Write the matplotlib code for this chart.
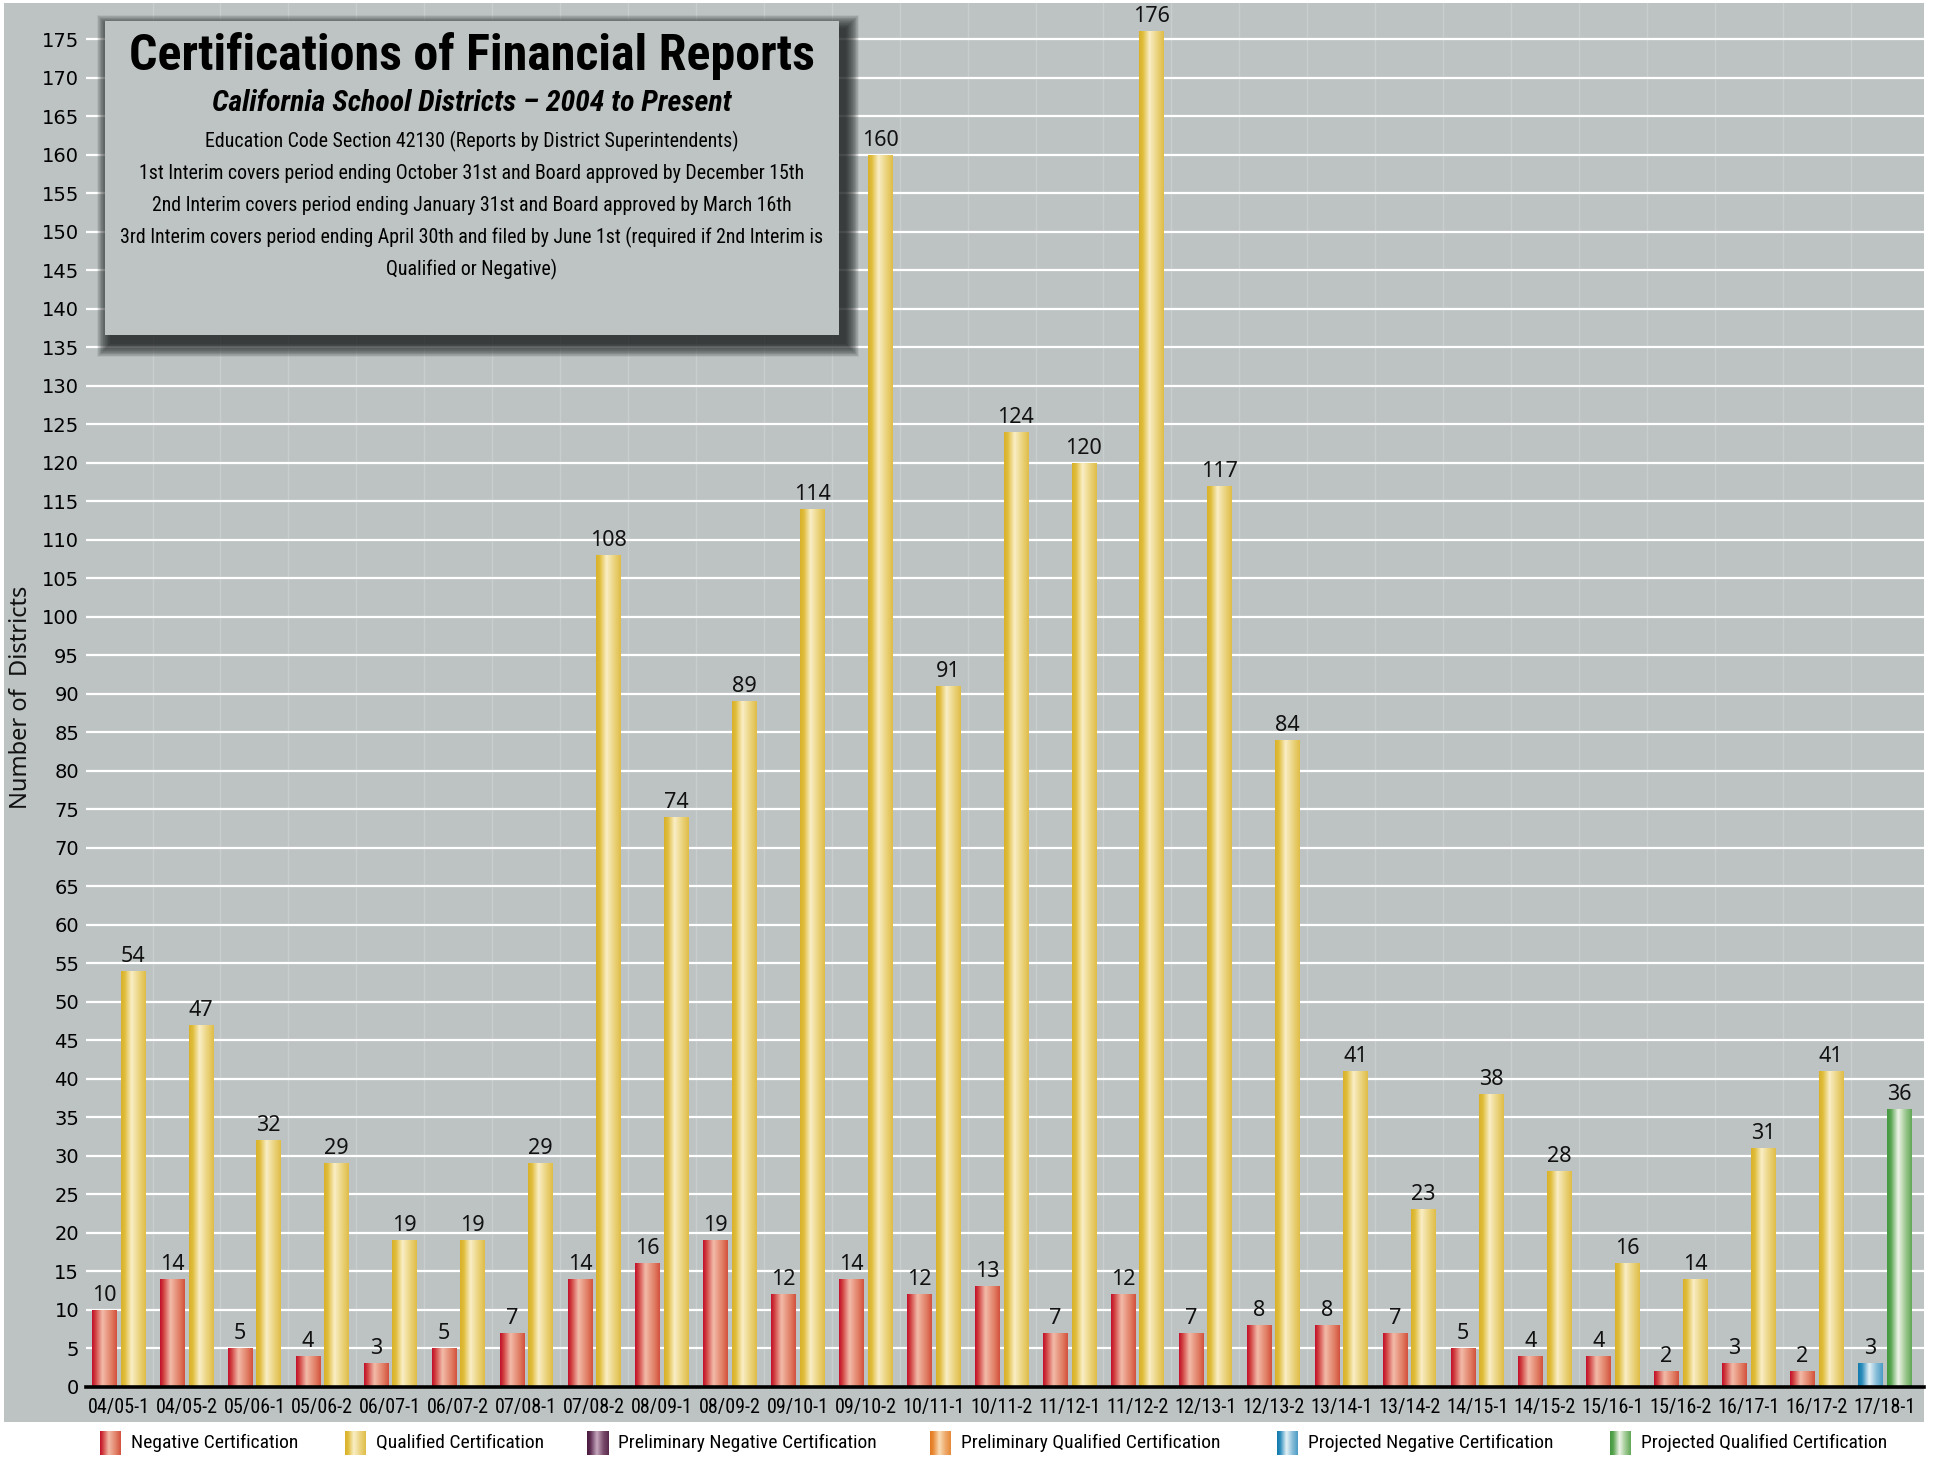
import numpy as np
import matplotlib
matplotlib.use("Agg")
import matplotlib.pyplot as plt
from matplotlib import font_manager
from matplotlib.patches import Rectangle
from matplotlib.colors import to_rgb

# ---------------- data ----------------
categories = ["04/05-1", "04/05-2", "05/06-1", "05/06-2", "06/07-1", "06/07-2",
              "07/08-1", "07/08-2", "08/09-1", "08/09-2", "09/10-1", "09/10-2",
              "10/11-1", "10/11-2", "11/12-1", "11/12-2", "12/13-1", "12/13-2",
              "13/14-1", "13/14-2", "14/15-1", "14/15-2", "15/16-1", "15/16-2",
              "16/17-1", "16/17-2", "17/18-1"]
negative = [10, 14, 5, 4, 3, 5, 7, 14, 16, 19, 12, 14, 12, 13, 7, 12, 7, 8,
            8, 7, 5, 4, 4, 2, 3, 2]
qualified = [54, 47, 32, 29, 19, 19, 29, 108, 74, 89, 114, 160, 91, 124, 120,
             176, 117, 84, 41, 23, 38, 28, 16, 14, 31, 41]
projected_categories = ["17/18-1"]
projected_negative = [3]
projected_qualified = [36]
yticks = list(range(0, 180, 5))
legend_labels = ["Negative Certification", "Qualified Certification",
                 "Preliminary Negative Certification",
                 "Preliminary Qualified Certification",
                 "Projected Negative Certification",
                 "Projected Qualified Certification"]

title = "Certifications of Financial Reports"
subtitle = "California School Districts \u2013 2004 to Present"
notes = ["Education Code Section 42130 (Reports by District Superintendents)",
         "1st Interim covers period ending October 31st and Board approved by December 15th",
         "2nd Interim covers period ending January 31st and Board approved by March 16th",
         "3rd Interim covers period ending April 30th and filed by June 1st (required if 2nd Interim is",
         "Qualified or Negative)"]

# ---------------- fonts ----------------
available = {f.name for f in font_manager.fontManager.ttflist}


def pick(*names):
    for n in names:
        if n in available:
            return n
    return "DejaVu Sans"


NARROW = pick("Liberation Sans Narrow", "DejaVu Sans Condensed", "Roboto Condensed", "Liberation Sans")
HUMAN = pick("Noto Sans", "Open Sans", "Lato")

# ---------------- styles ----------------
W, H = 1934, 1457
BG = "#bdc3c3"
GRAD = {
    "red":    [(0.0, "#c10f2c"), (0.12, "#cf3a3c"), (0.42, "#f2bba8"), (0.75, "#e2836a"), (1.0, "#d3523e")],
    "yellow": [(0.0, "#d9b02a"), (0.15, "#e0bd3c"), (0.42, "#f9eec6"), (0.75, "#ead27a"), (1.0, "#e0bd48")],
    "purple": [(0.0, "#4a1a3e"), (0.15, "#5e2c52"), (0.45, "#c6a8be"), (0.75, "#7a4c6c"), (1.0, "#5a2a4c")],
    "orange": [(0.0, "#e47a22"), (0.15, "#e88a36"), (0.45, "#f9dcb6"), (0.75, "#eea868"), (1.0, "#e68a3a")],
    "blue":   [(0.0, "#127aac"), (0.15, "#2a8cbc"), (0.45, "#e4f1f6"), (0.75, "#86bcd8"), (1.0, "#4c9cc6")],
    "green":  [(0.0, "#43983f"), (0.15, "#58a450"), (0.45, "#eef4e8"), (0.75, "#9cc890"), (1.0, "#62a858")],
}
legend_colors = ["red", "yellow", "purple", "orange", "blue", "green"]


def gradient_img(stops, n=64):
    pos = np.array([s[0] for s in stops])
    cols = np.array([to_rgb(s[1]) for s in stops])
    t = np.linspace(0, 1, n)
    img = np.stack([np.interp(t, pos, cols[:, c]) for c in range(3)], axis=-1)
    return img[np.newaxis, :, :]


def fig_rect(x0, y0, x1, y1, **kw):
    """Rectangle in figure pixel coords (y measured from top)."""
    return Rectangle((x0 / W, 1 - y1 / H), (x1 - x0) / W, (y1 - y0) / H,
                     transform=fig.transFigure, **kw)


fig = plt.figure(figsize=(W / 100, H / 100), dpi=100, facecolor="white")
fig.add_artist(fig_rect(4, 3, 1924, 1422, facecolor=BG, edgecolor="none", zorder=-5))

ax_left, ax_right, ax_top, ax_bottom = 86, 1924, 3, 1386.7
ax = fig.add_axes([ax_left / W, 1 - ax_bottom / H, (ax_right - ax_left) / W, (ax_bottom - ax_top) / H])
ax.set_facecolor("none")
for s in ax.spines.values():
    s.set_visible(False)

x = np.arange(len(categories))
off, bw = 0.21, 0.36
n_main = len(negative)
proj_idx = np.array([categories.index(c) for c in projected_categories])

bars_neg = ax.bar(x[:n_main] - off, negative, width=bw, color="none", zorder=2)
bars_qual = ax.bar(x[:n_main] + off, qualified, width=bw, color="none", zorder=2)
bars_pneg = ax.bar(proj_idx - off, projected_negative, width=bw, color="none", zorder=2)
bars_pqual = ax.bar(proj_idx + off, projected_qualified, width=bw, color="none", zorder=2)

for bars, key in [(bars_neg, "red"), (bars_qual, "yellow"), (bars_pneg, "blue"), (bars_pqual, "green")]:
    img = gradient_img(GRAD[key])
    for p in bars.patches:
        x0, y0, w, h = p.get_x(), p.get_y(), p.get_width(), p.get_height()
        ax.imshow(img, extent=[x0, x0 + w, y0, y0 + h], aspect="auto",
                  interpolation="bilinear", zorder=2)
    ax.bar_label(bars, padding=3, fontsize=15.5, family=HUMAN, color="#111111")

ax.set_xlim(-0.48, 26.58)
ax.set_ylim(0, (ax_bottom - ax_top) / 7.7)
ax.set_aspect("auto")

ax.set_yticks(yticks)
ax.set_yticklabels([str(v) for v in yticks], family="DejaVu Sans", fontsize=14)
ax.set_xticks(x)
ax.set_xticklabels(categories, family=NARROW, fontsize=14.5)
ax.set_xticks(x[:-1] + 0.5, minor=True)
ax.tick_params(axis="both", which="both", length=0)
ax.tick_params(axis="y", pad=5)
ax.tick_params(axis="x", pad=8)
ax.yaxis.grid(True, color="white", lw=1.6, zorder=0)
ax.xaxis.grid(True, which="minor", color="#c8cdcd", lw=1.0, zorder=0)
ax.set_axisbelow(True)
ax.axhline(0, color="black", lw=2.6, zorder=3, clip_on=False)

fig.text(21 / W, 1 - 697 / H, "Number of  Districts", rotation=90, ha="center",
         va="center", family=HUMAN, fontsize=17, color="#111111")

# ---------------- title box ----------------
bx0, by0, bx1, by1 = 105, 21, 839, 335
n_sh = 22
for k in range(n_sh):
    e = 14 * (1 - k / n_sh)
    fig.add_artist(fig_rect(bx0 + 6 - e, by0 + 8 - e, bx1 + 6 + e, by1 + 8 + e,
                            facecolor="#1a1e1e", edgecolor="none", alpha=0.065, zorder=5))
fig.add_artist(fig_rect(bx0, by0, bx1, by1, facecolor="#bec4c3", edgecolor="none", zorder=6))

cx = (bx0 + bx1) / 2 / W
fig.text(cx, 1 - 70 / H, title, ha="center", va="baseline", family=NARROW,
         fontweight="bold", fontsize=36, color="black", zorder=7)
fig.text(cx, 1 - 111 / H, subtitle, ha="center", va="baseline", family=NARROW,
         fontweight="bold", style="italic", fontsize=21.5, color="black", zorder=7)
for i, line in enumerate(notes):
    fig.text(cx, 1 - (147 + 32 * i) / H, line, ha="center", va="baseline",
             family=NARROW, fontsize=14.3, color="black", zorder=7)

# ---------------- legend ----------------
leg_x = [100, 345, 587, 930, 1277, 1610]
for lx, lab, key in zip(leg_x, legend_labels, legend_colors):
    lax = fig.add_axes([lx / W, 1 - 1455 / H, 21 / W, 24 / H])
    lax.imshow(gradient_img(GRAD[key]), aspect="auto", interpolation="bilinear")
    lax.set_axis_off()
    fig.text((lx + 31) / W, 1 - 1443 / H, lab, ha="left", va="center",
             family=NARROW, fontsize=14, color="black")

fig.savefig("out.png", dpi=100, facecolor="white")
